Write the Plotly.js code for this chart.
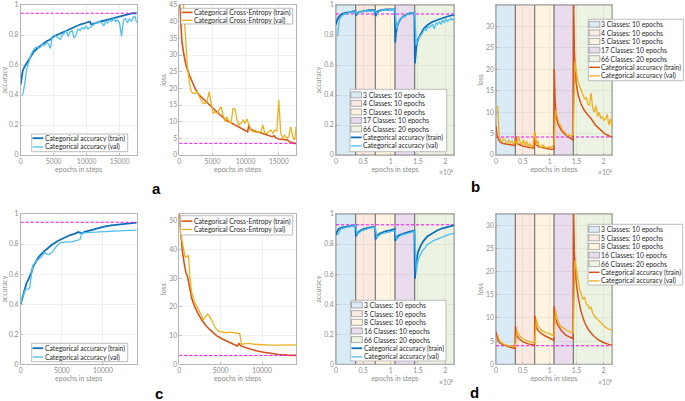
<!DOCTYPE html>
<html><head><meta charset="utf-8">
<script src="https://cdn.plot.ly/plotly-3.0.1.min.js"></script>
<style>html,body{margin:0;padding:0;background:#fff}#chart{width:685px;height:401px}</style>
</head><body><div id="chart"></div>
<script>
// ---------------- DATA ----------------
// Panel a (standard training, 66 classes)
const aAccTrainSteps = [0,300,600,1000,1500,2000,2500,3000,3500,4000,4500,5000,5500,6000,6500,7000,7500,8000,8500,9000,9500,10000,10300,10500,10700,11000,11500,12000,12500,13000,13500,14000,14500,15000,15500,16000,16500,17000,17600];
const aAccTrainValues = [0.47,0.56,0.59,0.62,0.66,0.69,0.71,0.73,0.745,0.76,0.77,0.79,0.80,0.81,0.82,0.835,0.84,0.85,0.86,0.87,0.875,0.88,0.885,0.89,0.87,0.875,0.885,0.89,0.895,0.90,0.91,0.915,0.92,0.925,0.925,0.93,0.935,0.945,0.945];
const aAccValSteps = [300,600,900,1200,1500,1800,2100,2400,2700,3000,3300,3600,3900,4200,4500,4800,5100,5400,5700,6000,6300,6600,6900,7200,7500,7800,8100,8400,8700,9000,9300,9600,9900,10200,10500,10800,11100,11400,11700,12000,12300,12600,12900,13200,13500,13800,14100,14400,14700,15000,15300,15600,15900,16200,16500,16800,17100,17400,17600];
const aAccValValues = [0.40,0.47,0.57,0.62,0.66,0.69,0.71,0.72,0.71,0.72,0.74,0.73,0.75,0.74,0.71,0.79,0.80,0.79,0.78,0.77,0.80,0.81,0.83,0.79,0.82,0.83,0.78,0.80,0.84,0.83,0.85,0.84,0.86,0.84,0.85,0.86,0.87,0.88,0.88,0.89,0.88,0.86,0.89,0.88,0.90,0.89,0.91,0.89,0.90,0.88,0.79,0.90,0.91,0.88,0.91,0.89,0.92,0.92,0.88];
const aLossTrainSteps = [0,200,400,700,1000,1500,2000,2500,3000,3500,4000,4500,5000,5500,6000,6500,7000,7500,8000,8500,9000,9500,10000,10300,10500,10700,11000,11500,12000,12500,13000,13500,14000,14300,14500,15000,15500,16000,16300,16600,17000,17300,17600];
const aLossTrainValues = [47,40,34,30,27,24,21.5,19.5,18,17,16,15,14,13,12.3,11.5,10.5,10,9.5,9,8.5,8,7.5,7,9,7.8,7.5,7,6.8,6.5,6.2,6,5.5,5.8,5.2,4.8,4.7,4.6,4.5,4.0,3.6,3.5,3.5];
const aLossValSteps = [600,900,1200,1500,1800,2100,2400,2700,3000,3300,3600,3900,4200,4500,4800,5100,5400,5700,6000,6300,6600,6900,7200,7500,7800,8100,8400,8700,9000,9300,9600,9900,10200,10500,10800,11100,11400,11700,12000,12300,12600,12900,13200,13500,13800,14100,14400,14700,15000,15300,15600,15900,16200,16500,16800,17100,17400,17600];
const aLossValValues = [46,35,27,22,19,18.5,18.5,19.2,17.5,16.5,15.5,15.5,16,19,15,12.5,13,12.5,13.5,14.5,12,10,11.5,10,9.5,14,13.8,10.5,9,9.5,10.5,9.5,10.8,9,7.5,7,7.5,7,6.8,7,9,6.5,6.5,7,7.5,6.5,7.5,7.2,16.5,6.5,5,6,5,5.5,8.5,5.5,4.5,8.5];

// Panel b (curriculum 3/4/5/17/66 classes)
const bPhaseEdges = [0,3600,7200,10800,14400,21600];
const bPhaseLabels = ['3 Classes: 10 epochs','4 Classes: 10 epochs','5 Classes: 10 epochs','17 Classes: 10 epochs','66 Classes: 20 epochs'];
const bAccTrainSteps = [0,200,500,900,1400,2000,2600,3200,3550,3650,3900,4400,5000,6000,7100,7250,7500,8200,9200,10000,10750,10850,11000,11300,11700,12200,12800,13500,14350,14450,14700,15000,15500,16000,16700,17500,18500,19500,20500,21600];
const bAccTrainValues = [0.87,0.90,0.92,0.935,0.945,0.95,0.955,0.96,0.96,0.93,0.945,0.955,0.96,0.965,0.965,0.925,0.955,0.965,0.97,0.97,0.97,0.75,0.82,0.87,0.90,0.92,0.935,0.945,0.95,0.61,0.72,0.77,0.81,0.84,0.865,0.885,0.90,0.915,0.925,0.935];
const bValSteps = [300,600,900,1200,1500,1800,2100,2400,2700,3000,3300,3600,3900,4200,4500,4800,5100,5400,5700,6000,6300,6600,6900,7200,7500,7800,8100,8400,8700,9000,9300,9600,9900,10200,10500,10800,11100,11400,11700,12000,12300,12600,12900,13200,13500,13800,14100,14400,14700,15000,15300,15600,15900,16200,16500,16800,17100,17400,17700,18000,18300,18600,18900,19200,19500,19800,20100,20400,20700,21000,21300,21600];
const bAccValValues = [0.80,0.90,0.92,0.93,0.94,0.94,0.945,0.95,0.955,0.95,0.955,0.955,0.94,0.95,0.955,0.96,0.955,0.96,0.96,0.96,0.965,0.96,0.965,0.96,0.945,0.955,0.96,0.965,0.965,0.965,0.97,0.965,0.97,0.97,0.965,0.97,0.84,0.88,0.90,0.91,0.925,0.92,0.935,0.94,0.935,0.945,0.945,0.95,0.73,0.76,0.79,0.80,0.82,0.84,0.83,0.86,0.85,0.86,0.87,0.84,0.88,0.87,0.89,0.87,0.90,0.88,0.91,0.89,0.90,0.91,0.90,0.91];
const bLossTrainSteps = [0,150,400,800,1300,2000,2800,3550,3650,3800,4200,5000,6000,7100,7250,7450,8000,9000,10000,10750,10850,11000,11200,11600,12200,13000,13800,14350,14450,14600,14900,15300,15800,16400,17000,17700,18500,19300,20200,21000,21600];
const bLossTrainValues = [6.8,5,3.8,3.0,2.7,2.5,2.3,2.2,4.3,3.0,2.5,2.1,1.8,1.6,5.2,2.5,1.9,1.6,1.4,1.3,20,13,9,7,5.7,4.6,4.0,3.5,36,24,17,14,12,10.5,9.5,8.5,7,6,5,4.5,4.2];
const bLossValValues = [11.5,4.2,3.5,3.2,3.8,3.0,2.6,3.5,2.8,3.2,2.5,3.3,2.5,4.4,3.0,2.4,3.5,2.2,3.2,2.0,2.6,1.9,2.3,5.5,2.4,3.3,2.0,1.8,2.4,1.9,1.7,1.8,2.0,1.7,2.0,2.4,10.5,9,7.5,7,6,5.5,5.3,4.5,4.7,4.5,4.5,4.8,22,19,17,16,15,14,13,13.5,12,11.5,14.5,11,10,11.5,9,10,8.5,9,8,8.5,9.5,7,8.5,6.5];

// Panel c (standard training, second run)
const cAccTrainSteps = [0,200,400,700,900,1100,1300,1500,1800,2200,2700,3200,3800,4500,5200,6000,6600,7000,7300,7500,7700,8300,9000,10000,11000,12000,13000,14100];
const cAccTrainValues = [0.40,0.44,0.49,0.54,0.56,0.58,0.61,0.65,0.68,0.715,0.745,0.77,0.795,0.82,0.84,0.86,0.87,0.88,0.875,0.87,0.88,0.89,0.90,0.915,0.925,0.932,0.938,0.943];
const cAccValSteps = [0,200,400,600,900,1100,1300,1500,1800,2200,2600,2900,3100,3400,3700,4000,4400,4800,5200,5600,6200,6800,7200,7400,7600,8500,9500,10500,11500,12500,14100];
const cAccValValues = [0.40,0.45,0.47,0.50,0.50,0.51,0.60,0.66,0.68,0.70,0.72,0.745,0.735,0.73,0.74,0.76,0.79,0.81,0.815,0.815,0.815,0.825,0.83,0.87,0.875,0.878,0.882,0.886,0.888,0.89,0.893];
const cLossTrainSteps = [0,150,350,600,800,1000,1200,1500,1800,2200,2700,3200,3800,4500,5200,6000,6600,7000,7200,7400,7800,8500,9300,10200,11000,12000,13000,14100];
const cLossTrainValues = [52.5,46,40,35,32,30.5,27,23,20.5,18,15.5,13.5,11.8,10,8.8,7.7,6.9,6.4,7.2,6.5,6.0,5.3,4.7,4.2,3.8,3.4,3.2,3.1];
const cLossValSteps = [0,150,300,500,700,900,1100,1300,1500,1800,2200,2600,2900,3200,3400,3700,4000,4400,4800,5200,5700,6100,6500,7000,7300,7500,7800,8300,9000,10000,11000,12000,13000,14100];
const cLossValValues = [51,45,43.5,40,37.5,37.5,38,30,25,22,20,17.5,15.5,16.5,17.5,16.5,15,12.5,11.5,11.2,11,11.2,11,10.8,10.7,7,7.2,7.3,7,6.8,6.7,6.7,6.8,6.8];

// Panel d (curriculum 3/5/8/16/66 classes)
const dPhaseEdges = [0,3600,7200,10800,14400,21600];
const dPhaseLabels = ['3 Classes: 10 epochs','5 Classes: 10 epochs','8 Classes: 10 epochs','16 Classes: 10 epochs','66 Classes: 20 epochs'];
const dAccTrainSteps = [0,150,500,1000,1800,2600,3550,3650,3850,4300,5000,6000,7150,7250,7500,8000,9000,10000,10750,10850,11100,11600,12300,13200,14350,14450,14700,15000,15500,16000,16700,17500,18500,19500,20500,21600];
const dAccTrainValues = [0.86,0.88,0.90,0.91,0.915,0.92,0.925,0.85,0.87,0.885,0.90,0.91,0.915,0.83,0.855,0.87,0.885,0.893,0.90,0.82,0.845,0.86,0.87,0.88,0.89,0.57,0.68,0.745,0.79,0.82,0.85,0.87,0.89,0.905,0.915,0.925];
const dAccValSteps = [300,600,900,1200,1800,2400,3000,3600,3900,4200,4800,5400,6000,6600,7200,7500,7800,8400,9000,9600,10200,10800,11100,11400,12000,12600,13200,13800,14400,14700,15000,15300,15600,15900,16200,16500,16800,17100,17400,17700,18300,18900,19500,20100,20700,21300,21600];
const dAccValValues = [0.86,0.88,0.90,0.905,0.91,0.915,0.92,0.925,0.86,0.875,0.89,0.90,0.905,0.91,0.915,0.84,0.855,0.87,0.875,0.88,0.885,0.89,0.83,0.845,0.86,0.865,0.875,0.88,0.885,0.62,0.69,0.72,0.745,0.76,0.77,0.79,0.80,0.805,0.815,0.82,0.83,0.84,0.85,0.86,0.865,0.87,0.872];
const dLossTrainSteps = [0,150,400,800,1500,2500,3550,3650,3850,4300,5000,6000,7150,7250,7450,8000,9000,10000,10750,10850,11050,11500,12200,13000,14350,14450,14600,14900,15300,15800,16500,17200,18000,19000,20000,21000,21600];
const dLossTrainValues = [7,6,5,4.5,4.1,3.7,3.4,8.2,6.3,5.5,4.9,4.4,4.1,10.5,8,7,6.2,5.6,5.2,12.5,9.8,8.5,7.2,6.3,5.5,33,24,18,14.5,11.5,9,7.5,6.3,5.3,4.7,4.3,4.1];
const dLossValSteps = [300,600,900,1200,1800,2400,3000,3600,3900,4200,4500,5000,5500,6000,6600,7200,7500,7800,8100,8500,9000,9600,10200,10800,11100,11400,11700,12000,12600,13200,13800,14400,14700,15000,15300,15600,15900,16200,16500,16800,17100,17400,17700,18000,18600,19200,19800,20400,21000,21600];
const dLossValValues = [6.3,5.3,4.8,4.5,4.2,4.0,3.9,3.8,7.3,6.5,6.0,5.5,5.2,5.0,4.8,4.6,9.8,8.2,7.8,7.3,7.0,6.8,6.5,6.0,11.5,9.8,9.0,8.2,7.8,7.3,7.0,6.8,22.5,20,17.5,16,15,14,14.5,13,12.8,12,12.3,11,10,9.3,8.6,8,7.6,7.4];

// Target (dashed magenta) levels
const targets = {aAcc:0.945, aLoss:3.5, bAcc:0.94, bLoss:4.2, cAcc:0.945, cLoss:3.1, dAcc:0.928, dLoss:4.0};

// Tick values / labels
const accTicks = [0,0.2,0.4,0.6,0.8,1];
const accTickLabels = ['0','0.2','0.4','0.6','0.8','1'];
const stepTicks = [0,5000,10000,15000];
const stepTickLabels = ['0','5000','10000','15000'];
const stepTicks4 = [0,5000,10000,15000,20000];
const stepTickLabels4 = ['0','0.5','1','1.5','2'];
const lossTicksA = [0,5,10,15,20,25,30,35,40,45];
const lossTicksBD = [0,5,10,15,20,25,30];
const lossTicksC = [0,10,20,30,40,50];

const accLegend = ['Categorical accuracy (train)','Categorical accuracy (val)'];
const lossLegend = ['Categorical Cross-Entropy (train)','Categorical Cross-Entropy (val)'];
const panelLetters = ['a','b','c','d'];
const exponentLabel = '×10⁴';

// ---------------- STYLE / LAYOUT ----------------
const FONT = 'Lato, "Noto Sans", sans-serif';
const AXC = '#a3a3a3', GRIDC = '#e6e6e6', TICKC = '#8c8c8c', TXT = '#262626';
const C_TRAIN_ACC = '#0e6fb8', C_VAL_ACC = '#4dbeee', C_TRAIN_LOSS = '#d95319', C_VAL_LOSS = '#edb120';
const PHASE_FILL = ['rgba(0,114,189,0.14)','rgba(217,83,25,0.13)','rgba(237,177,32,0.13)','rgba(126,47,142,0.17)','rgba(119,172,48,0.14)'];
const W = 685, H = 401;
const px = v => v / W, py = v => 1 - v / H;
const colPx = [[20.7,136.7],[179.3,296],[336,454],[496,612]];
const rowPx = [[5,155],[214,364.3]];

const traces = [], shapes = [], annotations = [];
const layout = {width:W, height:H, margin:{l:0,r:0,t:0,b:0}, paper_bgcolor:'#fff', plot_bgcolor:'#fff',
  showlegend:false, font:{family:FONT}, shapes:shapes, annotations:annotations};

function panel(n, col, row, xr, yr, xtv, xtt, ytv, ytt, ytitle) {
  const sfx = n === 1 ? '' : String(n);
  const common = {showline:true, mirror:true, linecolor:AXC, linewidth:0.8, ticks:'inside', ticklen:2.5,
    tickwidth:0.6, tickcolor:AXC, showgrid:true, gridcolor:GRIDC, gridwidth:0.6, zeroline:false,
    fixedrange:true, automargin:false, tickmode:'array', tickfont:{family:FONT, size:6.8, color:TICKC}};
  layout['xaxis' + sfx] = Object.assign({}, common, {domain:[px(colPx[col][0]), px(colPx[col][1])], range:xr,
    anchor:'y' + sfx, tickvals:xtv, ticktext:xtt,
    title:{text:'epochs in steps', font:{family:FONT, size:7, color:TICKC}, standoff:2}});
  layout['yaxis' + sfx] = Object.assign({}, common, {domain:[py(rowPx[row][1]), py(rowPx[row][0])], range:yr,
    anchor:'x' + sfx, tickvals:ytv, ticktext:ytt,
    title:{text:ytitle, font:{family:FONT, size:7, color:TICKC}, standoff:1}});
  return {xa:'x' + sfx, ya:'y' + sfx, xr:xr, yr:yr};
}
function line(p, x, y, color, width, dash) {
  traces.push({type:'scatter', mode:'lines', x:x, y:y, xaxis:p.xa, yaxis:p.ya,
    line:{color:color, width:width, dash:dash || 'solid'}, hoverinfo:'skip'});
}
function target(p, v) { line(p, p.xr, [v, v], '#ff00ff', 1, '3px,2px'); }
function phases(p, edges) {
  for (let i = 0; i < edges.length - 1; i++) {
    const a = edges[i], b = edges[i + 1], t = p.yr[1];
    traces.push({type:'scatter', mode:'lines', x:[a,a,b,b,a], y:[0,t,t,0,0], fill:'toself',
      fillcolor:PHASE_FILL[i], line:{color:'rgba(95,95,95,0.7)', width:0.9}, xaxis:p.xa, yaxis:p.ya, hoverinfo:'skip'});
  }
}
function legend(box, entries, y0, dy) {
  const [x0, t0, x1, t1] = box;
  shapes.push({type:'rect', xref:'paper', yref:'paper', x0:px(x0), x1:px(x1), y0:py(t1), y1:py(t0),
    fillcolor:'#ffffff', line:{color:'#a0a0a0', width:0.7}});
  entries.forEach((e, i) => {
    const yc = y0 + i * dy;
    if (e.kind === 'patch') {
      shapes.push({type:'rect', xref:'paper', yref:'paper', x0:px(x0 + 0.8), x1:px(x0 + 11.6),
        y0:py(yc + 3), y1:py(yc - 3), fillcolor:e.color, line:{color:'#7a7a7a', width:0.6}});
    } else {
      shapes.push({type:'line', xref:'paper', yref:'paper', x0:px(x0 + 0.8), x1:px(x0 + 11.6),
        y0:py(yc), y1:py(yc), line:{color:e.color, width:e.width}});
    }
    annotations.push({xref:'paper', yref:'paper', x:px(x0 + 12), y:py(yc), xanchor:'left', yanchor:'middle',
      text:e.text, showarrow:false, borderpad:0, font:{family:FONT, size:6.8, color:TXT}});
  });
}
function note(x, y, text, opts) {
  annotations.push(Object.assign({xref:'paper', yref:'paper', x:px(x), y:py(y), text:text, showarrow:false,
    xanchor:'center', yanchor:'middle', borderpad:0}, opts));
}

// ---- Panel a ----
const pA1 = panel(1, 0, 0, [0,17600], [0,1], stepTicks, stepTickLabels, accTicks, accTickLabels, 'accuracy');
line(pA1, aAccTrainSteps, aAccTrainValues, C_TRAIN_ACC, 1.8);
line(pA1, aAccValSteps, aAccValValues, C_VAL_ACC, 1.3);
target(pA1, targets.aAcc);
const pA2 = panel(2, 1, 0, [0,17600], [0,45], stepTicks, stepTickLabels, lossTicksA, lossTicksA.map(String), 'loss');
line(pA2, aLossTrainSteps, aLossTrainValues, C_TRAIN_LOSS, 1.6);
line(pA2, aLossValSteps, aLossValValues, C_VAL_LOSS, 1.3);
target(pA2, targets.aLoss);

// ---- Panel b ----
const pB1 = panel(3, 2, 0, [0,21600], [0,1], stepTicks4, stepTickLabels4, accTicks, accTickLabels, 'accuracy');
phases(pB1, bPhaseEdges);
target(pB1, targets.bAcc);
line(pB1, bAccTrainSteps, bAccTrainValues, C_TRAIN_ACC, 1.8);
line(pB1, bValSteps, bAccValValues, C_VAL_ACC, 1.3);
const pB2 = panel(4, 3, 0, [0,21600], [0,35], stepTicks4, stepTickLabels4, lossTicksBD, lossTicksBD.map(String), 'loss');
phases(pB2, bPhaseEdges);
target(pB2, targets.bLoss);
line(pB2, bLossTrainSteps, bLossTrainValues, C_TRAIN_LOSS, 1.5);
line(pB2, bValSteps, bLossValValues, C_VAL_LOSS, 1.3);

// ---- Panel c ----
const pC1 = panel(5, 0, 1, [0,14100], [0,1], stepTicks.slice(0,3), stepTickLabels.slice(0,3), accTicks, accTickLabels, 'accuracy');
line(pC1, cAccTrainSteps, cAccTrainValues, C_TRAIN_ACC, 1.8);
line(pC1, cAccValSteps, cAccValValues, C_VAL_ACC, 1.3);
target(pC1, targets.cAcc);
const pC2 = panel(6, 1, 1, [0,14100], [0,52.4], stepTicks.slice(0,3), stepTickLabels.slice(0,3), lossTicksC, lossTicksC.map(String), 'loss');
line(pC2, cLossTrainSteps, cLossTrainValues, C_TRAIN_LOSS, 1.6);
line(pC2, cLossValSteps, cLossValValues, C_VAL_LOSS, 1.3);
target(pC2, targets.cLoss);

// ---- Panel d ----
const pD1 = panel(7, 2, 1, [0,21600], [0,1], stepTicks4, stepTickLabels4, accTicks, accTickLabels, 'accuracy');
phases(pD1, dPhaseEdges);
target(pD1, targets.dAcc);
line(pD1, dAccTrainSteps, dAccTrainValues, C_TRAIN_ACC, 1.8);
line(pD1, dAccValSteps, dAccValValues, C_VAL_ACC, 1.3);
const pD2 = panel(8, 3, 1, [0,21600], [0,32.4], stepTicks4, stepTickLabels4, lossTicksBD, lossTicksBD.map(String), 'loss');
phases(pD2, dPhaseEdges);
target(pD2, targets.dLoss);
line(pD2, dLossTrainSteps, dLossTrainValues, C_TRAIN_LOSS, 1.5);
line(pD2, dLossValSteps, dLossValValues, C_VAL_LOSS, 1.3);

// ---- Legends ----
const accEntries = [{kind:'line', color:C_TRAIN_ACC, width:1.8, text:accLegend[0]}, {kind:'line', color:C_VAL_ACC, width:1.3, text:accLegend[1]}];
const lossEntries = [{kind:'line', color:C_TRAIN_LOSS, width:1.6, text:lossLegend[0]}, {kind:'line', color:C_VAL_LOSS, width:1.3, text:lossLegend[1]}];
const lossAccEntries = [{kind:'line', color:C_TRAIN_LOSS, width:1.5, text:accLegend[0]}, {kind:'line', color:C_VAL_LOSS, width:1.3, text:accLegend[1]}];
const phaseEntries = labels => labels.map((t, i) => ({kind:'patch', color:PHASE_FILL[i], text:t}));
legend([31.7,134,127.7,151.7], accEntries, 138.2, 8.8);
legend([181,8.3,292.7,24], lossEntries, 12.4, 7.9);
legend([350,89.3,446.7,151.7], phaseEntries(bPhaseLabels).concat(accEntries), 94.9, 8.5);
legend([588.3,19.3,683.3,80.7], phaseEntries(bPhaseLabels).concat(lossAccEntries), 24.3, 8.6);
legend([31.7,343.3,127.7,361.7], accEntries, 348.2, 8.8);
legend([180.7,215.7,292.7,235], lossEntries, 221.1, 8.3);
legend([350.7,300.3,446,361], phaseEntries(dPhaseLabels).concat(accEntries), 305, 8.65);
legend([588,224.3,682.7,285], phaseEntries(dPhaseLabels).concat(lossAccEntries), 229.3, 8.6);

// ---- ×10^4 exponents & panel letters ----
const expFont = {family:FONT, size:6.8, color:TICKC};
note(455, 172, exponentLabel, {xanchor:'right', font:expFont});
note(614, 172, exponentLabel, {xanchor:'right', font:expFont});
note(455, 381.5, exponentLabel, {xanchor:'right', font:expFont});
note(614, 381.5, exponentLabel, {xanchor:'right', font:expFont});
const letterFont = {family:'"Liberation Sans", Arial, sans-serif', size:15, color:'#000', weight:700};
note(156.7, 188, panelLetters[0], {font:letterFont});
note(475, 187, panelLetters[1], {font:letterFont});
note(159.3, 393, panelLetters[2], {font:letterFont});
note(474, 392, panelLetters[3], {font:letterFont});

Plotly.newPlot('chart', traces, layout, {staticPlot:true, displayModeBar:false});
</script></body></html>
